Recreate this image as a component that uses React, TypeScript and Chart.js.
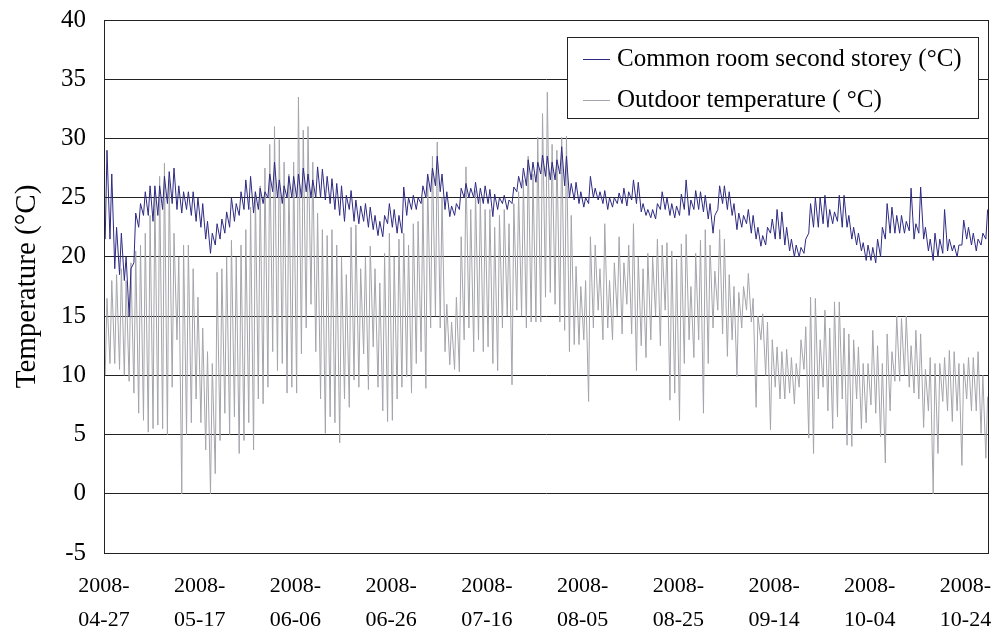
import React, { useEffect, useRef } from 'react';
import { Chart, registerables } from 'chart.js';

Chart.register(...registerables);

// Day offsets (from 2008-04-27) of the labelled x ticks, and their labels
const tickDays = [0, 20, 40, 60, 80, 100, 120, 140, 160, 180];
const tickLabels = [
  '2008-04-27', '2008-05-17', '2008-06-06', '2008-06-26', '2008-07-16',
  '2008-08-05', '2008-08-25', '2008-09-14', '2008-10-04', '2008-10-24',
];
const lastDay = 184.7;

// Daily minimum / maximum readings (one value per day, starting 2008-04-27)
const outdoorMin = [
  10, 11, 11, 10.5, 10, 9.5, 8.5, 6.8, 6.2, 5.2, 5.5, 5.8, 5.5, 5, 9, 13, 0, 5, 6, 8,
  6, 3.7, 0, 1.7, 4.5, 6.8, 5, 6.5, 3.4, 4.5, 6, 3.7, 8, 7.6, 9, 12, 10.4, 11, 8.5, 9,
  8.5, 11.8, 14, 16, 12, 8, 5.1, 6.5, 6, 4.3, 8, 7.3, 9.6, 9, 11.8, 8.8, 12.4, 9, 7, 6.1,
  6.2, 8, 9, 9.9, 8.5, 11, 12, 8.9, 14, 15, 14, 12, 10.9, 10.5, 10.3, 13, 14, 12, 13, 12,
  12.4, 11, 10.4, 14, 15, 9.2, 15.5, 15, 14, 14.5, 14.5, 14.5, 16.6, 17, 16, 14.5, 13.8, 12, 12.6, 12.6,
  13, 7.8, 14, 15.5, 13, 14, 13, 15, 13.5, 16, 13.5, 10.4, 12.5, 11.5, 13, 15, 12.5, 15.5, 7.9, 8.5,
  6.2, 11, 13, 11.5, 13, 6.8, 11, 14, 15.5, 13.5, 11.6, 13, 9.9, 14, 15.5, 14.5, 7.3, 13, 10, 5.4,
  9, 8, 8, 8.5, 7.6, 9, 10.5, 4.7, 3.4, 8, 9, 7, 5.5, 6.5, 8, 4.1, 4, 8, 5.5, 6,
  7.5, 6.8, 4.8, 2.6, 7, 9.5, 9.5, 10, 9, 8.5, 8, 5.6, 7, 0, 3.4, 7.8, 7, 6.1, 7, 2.4,
  8, 7, 7, 5.1, 3,
];
const outdoorMax = [
  16.5, 18, 18.5, 19, 18, 19.5, 20.5, 21, 22, 23.5, 25.4, 26.8, 27.9, 26.5, 22, 20, 21, 21, 19, 16.6,
  14, 12, 11, 18.7, 19, 20, 21.4, 20, 21, 22.3, 24.2, 25.5, 26, 27.5, 29.5, 31, 29.9, 28, 27, 28,
  33.5, 30.7, 31, 28, 23.7, 22.3, 21.8, 22.3, 21, 20, 18.5, 22.5, 22.7, 19, 20, 20.9, 19, 17.8, 20.3, 22,
  20, 21.5, 22, 21, 22.8, 23, 25, 26.5, 28.5, 29.7, 25, 16, 14.5, 16.6, 21.7, 27.6, 24, 25.6, 25, 24,
  24, 22.5, 23.5, 24, 22.8, 24.5, 25.5, 26.5, 28.5, 27, 30.1, 32.1, 33.9, 29.5, 29, 30.1, 30.2, 23.5, 19.2, 17.5,
  18, 21.7, 21, 19, 22.8, 18, 19.5, 21.7, 19.5, 21, 22.8, 20, 19, 20.3, 20, 21.5, 21, 21.2, 20.5, 19.8,
  21.1, 21.9, 17.5, 20.3, 21.4, 22.3, 21, 18.8, 22.3, 21.5, 18.5, 17.5, 17, 17.5, 18.6, 16.5, 15, 15.2, 14.5, 13,
  12.4, 12, 12.2, 11.5, 11, 13, 14.1, 16.6, 16.5, 13, 15.5, 14, 16.2, 16.2, 14, 13.5, 13, 12.4, 11, 11,
  13.8, 12.5, 11, 13.5, 12, 15, 14.8, 15, 12.5, 13.8, 13.5, 10.5, 11.5, 11, 11, 11.5, 12.1, 12, 11, 11,
  11.5, 11.5, 12, 10, 8.2,
];
const indoorMin = [
  21.5, 21.5, 19, 18.5, 18, 15, 19.5, 22.5, 23.5, 23.5, 23, 23.5, 24, 24.5, 24.5, 24, 23.7, 24, 23.5, 23,
  22.5, 21.5, 20.3, 21, 21.5, 22, 22.5, 23, 23.5, 24, 24, 23.7, 24, 24.5, 25, 25.5, 25, 24.5, 25, 25,
  25, 25, 25.5, 25, 25, 25, 24.8, 24.5, 24, 23.5, 23, 24, 23, 22.8, 23, 22.5, 22.3, 21.8, 21.7, 22.8,
  22.5, 22, 22, 23.5, 24, 24, 24.5, 25, 25.5, 26, 25.5, 24, 23.4, 23.5, 24, 25, 25, 25, 24.5, 24.5,
  24.5, 23.4, 24, 24.5, 24, 24.5, 25.5, 25.8, 26, 26.5, 26.3, 27, 26.8, 26.5, 26.5, 27, 26, 25, 24.8, 24.5,
  24.2, 24.5, 25, 24.8, 24.5, 24, 24.2, 24.5, 24.5, 24.3, 24.8, 24.5, 23.8, 23.5, 23.3, 23.2, 24, 24, 23.5, 23.3,
  23.5, 24, 23.5, 24, 24, 23.8, 23.2, 22, 24, 24.5, 24, 23.5, 22.3, 22.5, 22.8, 22, 21.5, 20.9, 21, 22,
  21.5, 21.5, 21, 20.5, 20, 20, 20.3, 22, 22.5, 22.5, 22.8, 22.5, 22.8, 23, 22.5, 22.5, 21.5, 21, 20.5, 19.7,
  19.7, 19.5, 20, 21.5, 22, 22, 22, 22, 22.2, 21.5, 22, 21.5, 20.5, 19.7, 20, 20.3, 20.5, 20.5, 20, 21,
  21.5, 21, 20.5, 21, 21.5,
];
const indoorMax = [
  29, 27, 22.5, 22, 20, 19, 23.7, 24.5, 25.5, 26, 26, 26, 26.8, 27.2, 27.5, 26, 25.5, 25.5, 25.5, 25,
  24.5, 23, 22, 22.8, 23.2, 23.8, 25, 24.5, 25.5, 26.5, 26.8, 25.5, 25.8, 25.5, 27, 28, 26.5, 26, 26.8, 26.8,
  27, 27.5, 27, 26.5, 27.6, 27.4, 26.8, 26.6, 26.2, 26, 25.2, 25.6, 24.8, 24.3, 24.5, 24.2, 23.5, 23, 23.5, 24.5,
  24, 23.5, 25.9, 25, 25.2, 25, 26, 27, 27.5, 28.5, 27, 25.5, 24.3, 24.5, 25.8, 26.2, 25.8, 26.3, 25.8, 26,
  25.7, 25.3, 25, 25.2, 24.8, 25.9, 26.8, 27.5, 28.2, 28, 28, 28.6, 28.5, 28, 28.2, 29.3, 28.5, 26.2, 26.3, 25.5,
  25, 26.8, 25.8, 25.5, 25.6, 25, 25, 25.4, 25.8, 25.5, 26.5, 26.3, 24.5, 24, 24, 24.5, 25.5, 25, 24.5, 24.3,
  25.3, 26.5, 24.8, 25.6, 25.5, 25.2, 24.5, 23.5, 26, 26, 25.5, 24.5, 23.7, 23.5, 24, 23.5, 22.5, 21.8, 22.5, 23.2,
  24, 23.8, 22.5, 21.5, 21, 20.8, 21.5, 24.5, 25, 25, 25.2, 24, 23.8, 25.2, 25.2, 23.5, 22.5, 22, 21.2, 21,
  20.8, 21.5, 22.5, 24.5, 24.2, 23.5, 23.5, 23, 25.8, 22.8, 25.9, 22.5, 21.5, 22, 21.5, 24, 21.5, 21, 21, 23.1,
  22.5, 22, 21.5, 22, 24,
];

const BLUE = '#2e2a82';
const GRAY = '#a4a4ac';
const FONT = "'Liberation Serif', 'Times New Roman', serif";

function buildPoints(mins: number[], maxs: number[]) {
  const pts: { x: number; y: number }[] = [];
  mins.forEach((mn, i) => {
    pts.push({ x: i + 0.25, y: mn });
    pts.push({ x: i + 0.625, y: maxs[i] });
  });
  return pts;
}

const boxLegend = {
  id: 'boxLegend',
  afterDraw(chart: any) {
    const { ctx, chartArea } = chart;
    const w = 411;
    const h = 81;
    const x = chartArea.right - 10 - w;
    const y = chartArea.top + 17;
    ctx.save();
    ctx.fillStyle = '#fff';
    ctx.fillRect(x, y, w, h);
    ctx.strokeStyle = '#222';
    ctx.lineWidth = 1;
    ctx.strokeRect(x + 0.5, y + 0.5, w, h);
    ctx.font = `25px ${FONT}`;
    ctx.textBaseline = 'middle';
    ctx.textAlign = 'left';
    chart.data.datasets.forEach((ds: any, i: number) => {
      const cy = y + 22 + i * 41;
      ctx.strokeStyle = ds.borderColor;
      ctx.beginPath();
      ctx.moveTo(x + 16, cy + 0.5);
      ctx.lineTo(x + 43, cy + 0.5);
      ctx.stroke();
      ctx.fillStyle = '#000';
      ctx.fillText(ds.label, x + 50, cy);
    });
    ctx.restore();
  },
};

const frame = {
  id: 'frame',
  afterDatasetsDraw(chart: any) {
    const { ctx, chartArea } = chart;
    ctx.save();
    ctx.strokeStyle = '#222';
    ctx.lineWidth = 1;
    ctx.strokeRect(
      Math.round(chartArea.left) + 0.5,
      Math.round(chartArea.top) + 0.5,
      Math.round(chartArea.right - chartArea.left),
      Math.round(chartArea.bottom - chartArea.top)
    );
    ctx.restore();
  },
};

export default function App() {
  const ref = useRef<HTMLCanvasElement | null>(null);

  useEffect(() => {
    if (!ref.current) return;
    const chart = new Chart(ref.current, {
      type: 'line',
      data: {
        datasets: [
          {
            label: 'Common room second storey (°C)',
            data: buildPoints(indoorMin, indoorMax),
            borderColor: BLUE,
            borderWidth: 1,
            pointRadius: 0,
            tension: 0,
          },
          {
            label: 'Outdoor temperature ( °C)',
            data: buildPoints(outdoorMin, outdoorMax),
            borderColor: GRAY,
            borderWidth: 1,
            pointRadius: 0,
            tension: 0,
          },
        ],
      },
      options: {
        animation: false,
        responsive: false,
        devicePixelRatio: 1,
        layout: { padding: { left: 0, right: 19, top: 20, bottom: 0 } },
        plugins: { legend: { display: false }, tooltip: { enabled: false } },
        scales: {
          x: {
            type: 'linear',
            min: 0,
            max: lastDay,
            afterBuildTicks: (s: any) => {
              s.ticks = tickDays.map((v) => ({ value: v }));
            },
            afterFit: (s: any) => {
              s.height = 83;
              s.paddingLeft = 0;
              s.paddingRight = 0;
              s.paddingTop = 0;
              s.paddingBottom = 0;
            },
            grid: { display: false, drawTicks: false },
            border: { display: true, color: '#222' },
            ticks: {
              autoSkip: false,
              maxRotation: 0,
              minRotation: 0,
              padding: 16,
              color: '#000',
              font: { family: FONT, size: 22, lineHeight: 1.55 },
              callback: (v: any) => {
                const i = tickDays.indexOf(Number(v));
                if (i < 0) return '';
                const l = tickLabels[i];
                return [l.slice(0, 5), l.slice(5)];
              },
            },
          },
          y: {
            min: -5,
            max: 40,
            afterFit: (s: any) => {
              s.width = 104;
              s.paddingTop = 0;
              s.paddingBottom = 0;
              s.paddingLeft = 0;
              s.paddingRight = 0;
            },
            grid: { color: '#222', lineWidth: 1, drawTicks: false },
            border: { display: true, color: '#222' },
            ticks: {
              stepSize: 5,
              padding: 18,
              color: '#000',
              font: { family: FONT, size: 25 },
            },
            title: {
              display: true,
              text: 'Temperature (°C)',
              color: '#000',
              font: { family: FONT, size: 29 },
              padding: { top: 10, bottom: 0 },
            },
          },
        },
      },
      plugins: [frame, boxLegend],
    });
    return () => chart.destroy();
  }, []);

  return (
    <div style={{ position: 'absolute', left: 0, top: 0, width: 1007, height: 636, background: '#fff' }}>
      <canvas ref={ref} width={1007} height={636} />
    </div>
  );
}
